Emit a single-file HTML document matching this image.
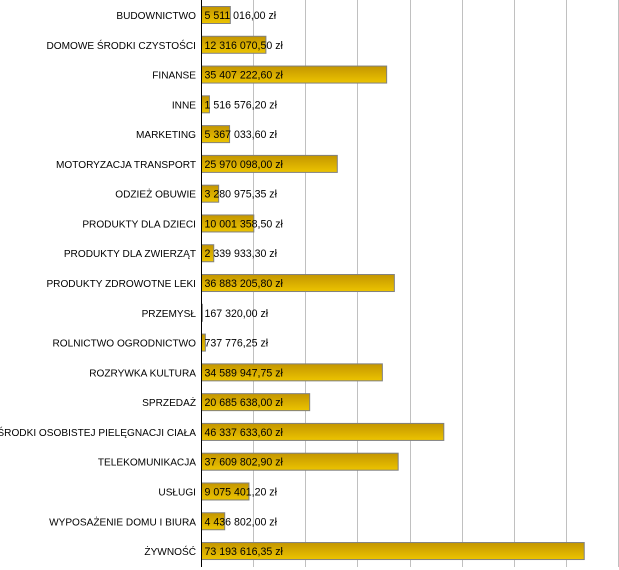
<!DOCTYPE html>
<html><head><meta charset="utf-8"><style>
body{margin:0;width:619px;height:567px;background:#fff;overflow:hidden;font-family:"Liberation Sans",sans-serif;font-size:11px}
</style></head><body>
<svg width="619" height="567" xmlns="http://www.w3.org/2000/svg">
<defs><linearGradient id="g" x1="0" y1="0" x2="0" y2="1"><stop offset="0" stop-color="#c49600"/><stop offset="1" stop-color="#ecc400"/></linearGradient></defs>
<g stroke="#c0c0c0" stroke-width="1">
<line x1="253.5" y1="0" x2="253.5" y2="567"/><line x1="305.5" y1="0" x2="305.5" y2="567"/><line x1="357.5" y1="0" x2="357.5" y2="567"/><line x1="410.5" y1="0" x2="410.5" y2="567"/><line x1="462.5" y1="0" x2="462.5" y2="567"/><line x1="514.5" y1="0" x2="514.5" y2="567"/><line x1="566.5" y1="0" x2="566.5" y2="567"/><line x1="618.5" y1="0" x2="618.5" y2="567"/>
</g>
<g id="bars" font-family="Liberation Sans, sans-serif" fill="#000"></g>
<line x1="201.5" y1="0" x2="201.5" y2="567" stroke="#000"/>
</svg>
<script>
var d=[["BUDOWNICTWO",5511016,"5 511 016,00 zł"],["DOMOWE ŚRODKI CZYSTOŚCI",12316070.5,"12 316 070,50 zł"],["FINANSE",35407222.6,"35 407 222,60 zł"],["INNE",1516576.2,"1 516 576,20 zł"],["MARKETING",5367033.6,"5 367 033,60 zł"],["MOTORYZACJA TRANSPORT",25970098,"25 970 098,00 zł"],["ODZIEŻ OBUWIE",3280975.35,"3 280 975,35 zł"],["PRODUKTY DLA DZIECI",10001358.5,"10 001 358,50 zł"],["PRODUKTY DLA ZWIERZĄT",2339933.3,"2 339 933,30 zł"],["PRODUKTY ZDROWOTNE LEKI",36883205.8,"36 883 205,80 zł"],["PRZEMYSŁ",167320,"167 320,00 zł"],["ROLNICTWO OGRODNICTWO",737776.25,"737 776,25 zł"],["ROZRYWKA KULTURA",34589947.75,"34 589 947,75 zł"],["SPRZEDAŻ",20685638,"20 685 638,00 zł"],["ŚRODKI OSOBISTEJ PIELĘGNACJI CIAŁA",46337633.6,"46 337 633,60 zł"],["TELEKOMUNIKACJA",37609802.9,"37 609 802,90 zł"],["USŁUGI",9075401.2,"9 075 401,20 zł"],["WYPOSAŻENIE DOMU I BIURA",4436802,"4 436 802,00 zł"],["ŻYWNOŚĆ",73193616.35,"73 193 616,35 zł"]];
var g=document.getElementById('bars'),s="",k=5.229e-6;
d.forEach(function(r,i){var c=15+i*29.78,w=r[1]*k;
s+='<rect x="201.5" y="'+(c-9+0.5)+'" width="'+w+'" height="17" fill="url(#g)" stroke="#808080"/>';
s+='<text x="196" y="'+(c+4)+'" text-anchor="end" font-size="10.1">'+r[0]+'</text>';
s+='<text x="204.5" y="'+(c+4)+'" font-size="10.6">'+r[2]+'</text>';});
g.innerHTML=s;
</script>
</body></html>
